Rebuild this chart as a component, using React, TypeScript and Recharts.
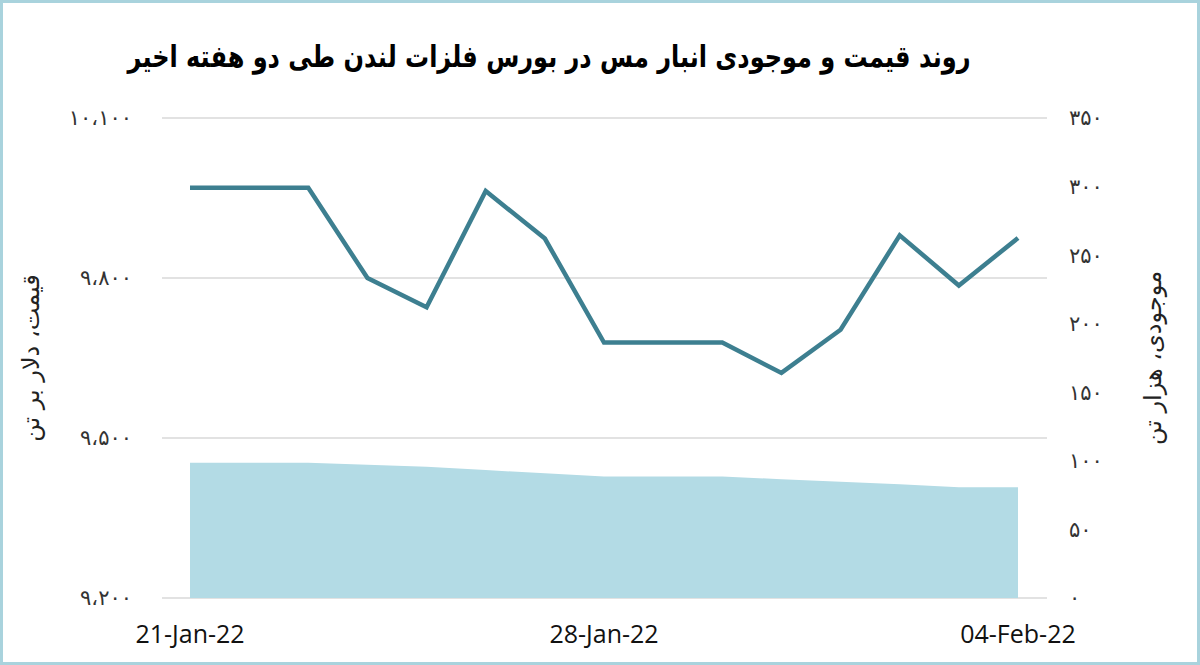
import { ComposedChart, Line, Area, XAxis, YAxis, CartesianGrid } from 'recharts'

const dates = [
  '21-Jan-22', '22-Jan-22', '23-Jan-22', '24-Jan-22', '25-Jan-22',
  '26-Jan-22', '27-Jan-22', '28-Jan-22', '29-Jan-22', '30-Jan-22',
  '31-Jan-22', '01-Feb-22', '02-Feb-22', '03-Feb-22', '04-Feb-22',
]

// copper price, $/t (left axis)
const price = [9969, 9969, 9969, 9800, 9745, 9963, 9874, 9679, 9679, 9679, 9622, 9703, 9880, 9786, 9875]

// LME stock, thousand t (right axis)
const stock = [98.7, 98.7, 98.7, 97.2, 95.7, 93.3, 90.9, 88.6, 88.6, 88.6, 86.6, 84.8, 82.9, 80.7, 80.7]

const priceTicks = [9200, 9500, 9800, 10100]
const stockTicks = [0, 50, 100, 150, 200, 250, 300, 350]

const TITLE = 'روند قیمت و موجودی انبار مس در بورس فلزات لندن طی دو هفته اخیر'
const PRICE_LABEL = 'قیمت، دلار بر تن'
const STOCK_LABEL = 'موجودی، هزار تن'

const faDigits = '۰۱۲۳۴۵۶۷۸۹'
const toFa = (n: number) =>
  n.toLocaleString('en-US').replace(/\d/g, (d) => faDigits[+d]).replace(/,/g, '،')

const data = dates.map((date, i) => ({ date, price: price[i], stock: stock[i] }))

const tickFont = { fontFamily: 'DejaVu Sans', fontSize: 21, fill: '#333' }
const labelStyle = { textAnchor: 'middle', fontFamily: 'DejaVu Sans', fontSize: 24, fill: '#222' }

export default function App() {
  return (
    <div
      style={{
        position: 'fixed',
        top: 0,
        left: 0,
        width: 1200,
        height: 665,
        boxSizing: 'border-box',
        border: '3px solid #a9d3dd',
        background: '#fff',
      }}
    >
      <div
        style={{
          position: 'absolute',
          top: 40,
          left: -3,
          width: 1098,
          textAlign: 'center',
          direction: 'rtl',
          fontFamily: 'DejaVu Sans',
          fontWeight: 'bold',
          fontSize: 24,
          color: '#000',
          transform: 'scaleY(1.25)',
          transformOrigin: 'center',
        }}
      >
        {TITLE}
      </div>
      <div style={{ position: 'absolute', top: -3, left: -3 }}>
        <ComposedChart
          width={1200}
          height={665}
          data={data}
          margin={{ top: 118, right: 43, bottom: 27, left: 27 }}
        >
          <CartesianGrid yAxisId="left" vertical={false} stroke="#d9d9d9" strokeWidth={1.5} />
          <XAxis
            dataKey="date"
            interval={6}
            padding={{ left: 28, right: 29 }}
            axisLine={false}
            tickLine={false}
            tickSize={0}
            tickMargin={27}
            height={40}
            tick={{ fontFamily: 'Open Sans', fontSize: 25, fill: '#111' }}
          />
          <YAxis
            yAxisId="left"
            domain={[9200, 10100]}
            ticks={priceTicks}
            tickFormatter={toFa}
            axisLine={false}
            tickLine={false}
            tickSize={0}
            tickMargin={30}
            width={135}
            tick={tickFont}
            label={{
              value: PRICE_LABEL,
              angle: -90,
              position: 'insideLeft',
              offset: 3,
              style: labelStyle,
            }}
          />
          <YAxis
            yAxisId="right"
            orientation="right"
            domain={[0, 350]}
            ticks={stockTicks}
            tickFormatter={toFa}
            axisLine={false}
            tickLine={false}
            tickSize={0}
            tickMargin={22}
            width={110}
            tick={{ ...tickFont, textAnchor: 'start' }}
            label={{
              value: STOCK_LABEL,
              angle: -90,
              position: 'insideRight',
              offset: 5,
              style: labelStyle,
            }}
          />
          <Area
            yAxisId="right"
            dataKey="stock"
            type="linear"
            fill="#b3dbe5"
            fillOpacity={1}
            stroke="none"
            isAnimationActive={false}
          />
          <Line
            yAxisId="left"
            dataKey="price"
            type="linear"
            stroke="#3d7f90"
            strokeWidth={4.5}
            dot={false}
            isAnimationActive={false}
          />
        </ComposedChart>
      </div>
    </div>
  )
}
